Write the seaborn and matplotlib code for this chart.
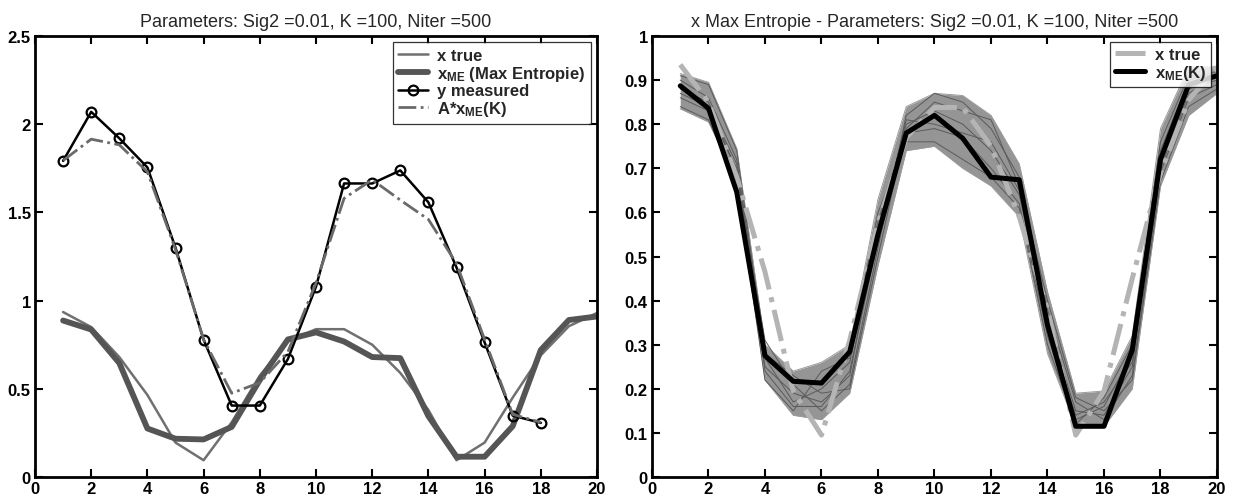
import matplotlib
matplotlib.use("Agg")
import matplotlib.pyplot as plt
from matplotlib.ticker import FixedLocator, FixedFormatter
import numpy as np
import pandas as pd
import seaborn as sns

# ---------------- data ----------------
x_idx = list(range(1, 21))
x_true = [0.935, 0.85, 0.68, 0.465, 0.195, 0.095, 0.31, 0.575, 0.77, 0.838,
          0.838, 0.75, 0.59, 0.38, 0.095, 0.195, 0.45, 0.69, 0.855, 0.93]
x_me = [0.887, 0.836, 0.646, 0.275, 0.217, 0.213, 0.284, 0.55, 0.78, 0.82,
        0.768, 0.68, 0.674, 0.345, 0.115, 0.115, 0.288, 0.72, 0.89, 0.91]
y_idx = list(range(1, 19))
y_measured = [1.792, 2.07, 1.92, 1.755, 1.30, 0.778, 0.405, 0.405, 0.669, 1.079,
              1.664, 1.664, 1.738, 1.557, 1.188, 0.763, 0.348, 0.307]
a_x_me = [1.794, 1.915, 1.883, 1.73, 1.29, 0.78, 0.475, 0.535, 0.71, 1.10,
          1.58, 1.685, 1.57, 1.46, 1.21, 0.78, 0.355, 0.31]

# ensemble of x_ME(k) iterates (envelope + a few visible members)
ens_low = [0.835, 0.805, 0.675, 0.22, 0.14, 0.13, 0.19, 0.48, 0.74, 0.75,
           0.70, 0.66, 0.59, 0.28, 0.115, 0.115, 0.20, 0.66, 0.82, 0.87]
ens_high = [0.915, 0.895, 0.745, 0.30, 0.24, 0.26, 0.30, 0.63, 0.84, 0.87,
            0.865, 0.82, 0.71, 0.42, 0.19, 0.195, 0.32, 0.79, 0.93, 0.93]
ens_a = [0.86, 0.83, 0.70, 0.25, 0.19, 0.17, 0.23, 0.56, 0.80, 0.83,
         0.80, 0.74, 0.64, 0.35, 0.15, 0.14, 0.25, 0.72, 0.88, 0.90]
ens_b = [0.90, 0.86, 0.72, 0.27, 0.17, 0.20, 0.26, 0.58, 0.78, 0.79,
         0.77, 0.70, 0.62, 0.32, 0.13, 0.16, 0.28, 0.74, 0.90, 0.92]
ens_c = [0.88, 0.85, 0.69, 0.31, 0.21, 0.15, 0.21, 0.52, 0.82, 0.87,
         0.85, 0.79, 0.68, 0.38, 0.17, 0.13, 0.23, 0.69, 0.86, 0.89]
ens_d = [0.84, 0.81, 0.66, 0.22, 0.15, 0.24, 0.27, 0.60, 0.76, 0.76,
         0.72, 0.68, 0.61, 0.30, 0.12, 0.18, 0.30, 0.76, 0.91, 0.91]
ens_e = [0.91, 0.89, 0.74, 0.28, 0.23, 0.19, 0.20, 0.50, 0.79, 0.85,
         0.83, 0.81, 0.66, 0.40, 0.18, 0.15, 0.22, 0.67, 0.84, 0.88]
ens_f = [0.87, 0.84, 0.71, 0.24, 0.16, 0.16, 0.24, 0.54, 0.81, 0.80,
         0.78, 0.76, 0.65, 0.33, 0.14, 0.17, 0.26, 0.70, 0.87, 0.91]

x_ticks = [0, 2, 4, 6, 8, 10, 12, 14, 16, 18, 20]
left_yticks = [0, 0.5, 1, 1.5, 2, 2.5]
left_ylabels = ["0", "0.5", "1", "1.5", "2", "2.5"]
right_yticks = [0, 0.1, 0.2, 0.3, 0.4, 0.5, 0.6, 0.7, 0.8, 0.9, 1]
right_ylabels = ["0", "0.1", "0.2", "0.3", "0.4", "0.5", "0.6", "0.7", "0.8", "0.9", "1"]

title_left = "Parameters: Sig2 =0.01, K =100, Niter =500"
title_right = "x Max Entropie - Parameters: Sig2 =0.01, K =100, Niter =500"

# ---------------- style ----------------
sns.set_theme(style="white")
plt.rcParams["font.family"] = ["Liberation Sans", "DejaVu Sans"]
plt.rcParams["mathtext.fontset"] = "custom"
plt.rcParams["mathtext.rm"] = "Liberation Sans:bold"
plt.rcParams["mathtext.it"] = "Liberation Sans:bold"
plt.rcParams["mathtext.bf"] = "Liberation Sans:bold"

fig = plt.figure(figsize=(12.33, 5.02), dpi=100)
fig.patch.set_facecolor("white")
axL = fig.add_axes([35 / 1233, 1 - 478 / 502, (597 - 35) / 1233, (478 - 37) / 502])
axR = fig.add_axes([652 / 1233, 1 - 478 / 502, (1217 - 652) / 1233, (478 - 37) / 502])

TITLE_FS = 13
TICK_FS = 12
LEG_FS = 12

# ---------------- left panel ----------------
dfL = pd.DataFrame({"x": x_idx, "x_true": x_true, "x_me": x_me})
dfY = pd.DataFrame({"x": y_idx, "y": y_measured, "ax": a_x_me})

sns.lineplot(data=dfL, x="x", y="x_true", ax=axL, color="#707070", lw=1.8,
             label="x true")
sns.lineplot(data=dfL, x="x", y="x_me", ax=axL, color="#555555", lw=4.2,
             label=r"x$_{\mathrm{ME}}$ (Max Entropie)")
sns.lineplot(data=dfY, x="x", y="y", ax=axL, color="black", lw=1.8,
             marker="o", markersize=7, markerfacecolor="none",
             markeredgecolor="black", markeredgewidth=1.6,
             label="y measured")
sns.lineplot(data=dfY, x="x", y="ax", ax=axL, color="#6a6a6a", lw=2.0,
             linestyle="-.", label=r"A*x$_{\mathrm{ME}}$(K)")
axL.set_xlim(0, 20)
axL.set_ylim(0, 2.5)
axL.yaxis.set_major_locator(FixedLocator(left_yticks))
axL.yaxis.set_major_formatter(FixedFormatter(left_ylabels))
axL.set_title(title_left, fontsize=TITLE_FS, pad=7)

legL = axL.legend(loc="upper right", fontsize=LEG_FS, frameon=True, fancybox=False,
                  edgecolor="black", handlelength=1.8, labelspacing=0.05,
                  borderpad=0.35, borderaxespad=0.35, handletextpad=0.5)
for t in legL.get_texts():
    t.set_fontweight("bold")
legL.get_frame().set_linewidth(0.9)

# ---------------- right panel ----------------
dfR = pd.DataFrame({"x": x_idx, "lo": ens_low, "hi": ens_high})
axR.fill_between(dfR["x"], dfR["lo"], dfR["hi"], color="#959595", lw=0)
for i, ens in enumerate([ens_low, ens_high, ens_a, ens_b, ens_c, ens_d, ens_e, ens_f]):
    sns.lineplot(x=x_idx, y=ens, ax=axR, color="#5a5a5a" if i > 1 else "#9a9a9a",
                 lw=0.7, legend=False)
sns.lineplot(data=dfL, x="x", y="x_true", ax=axR, color="#b4b4b4", lw=3.6,
             linestyle="-.", label="x true")
sns.lineplot(data=dfL, x="x", y="x_me", ax=axR, color="black", lw=3.6,
             label=r"x$_{\mathrm{ME}}$(K)")
axR.set_xlim(0, 20)
axR.set_ylim(0, 1)
axR.yaxis.set_major_locator(FixedLocator(right_yticks))
axR.yaxis.set_major_formatter(FixedFormatter(right_ylabels))
axR.set_title(title_right, fontsize=TITLE_FS, pad=7)

legR = axR.legend(loc="upper right", fontsize=LEG_FS, frameon=True, fancybox=False,
                  edgecolor="black", handlelength=1.8, labelspacing=0.05,
                  borderpad=0.3, borderaxespad=0.35, handletextpad=0.6)
for t in legR.get_texts():
    t.set_fontweight("bold")
legR.get_frame().set_linewidth(0.9)

# ---------------- common axes styling ----------------
for ax in (axL, axR):
    ax.set_facecolor("white")
    ax.xaxis.set_major_locator(FixedLocator(x_ticks))
    ax.set_xlabel("")
    ax.set_ylabel("")
    for s in ax.spines.values():
        s.set_visible(True)
        s.set_color("black")
        s.set_linewidth(2.0)
    ax.tick_params(direction="in", length=6, width=1.5, top=True, right=True,
                   bottom=True, left=True, labelsize=TICK_FS, pad=3, colors="black")
    for lab in ax.get_xticklabels() + ax.get_yticklabels():
        lab.set_fontweight("bold")

fig.savefig("out.png", dpi=100, facecolor="white")
